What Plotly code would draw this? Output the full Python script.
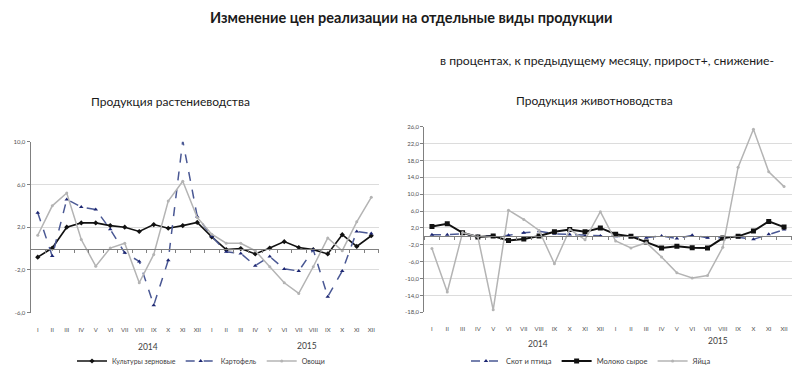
import plotly.graph_objects as go

months = ["I", "II", "III", "IV", "V", "VI", "VII", "VIII", "IX", "X", "XI", "XII"] * 2
years = ["2014", "2015"]

# Left chart: Продукция растениеводства
grain = [-0.8, 0.05, 2.0, 2.4, 2.4, 2.15, 2.0, 1.6, 2.25, 1.9, 2.15, 2.45,
         1.1, -0.1, 0.0, -0.5, 0.05, 0.65, 0.1, -0.1, -0.5, 1.3, 0.2, 1.2]
potato = [3.35, -0.7, 4.6, 3.9, 3.65, 1.8, -0.4, -1.2, -5.3, -1.1, 10.1, 3.0,
          1.15, -0.3, -0.45, -1.6, -0.75, -1.9, -2.1, -0.1, -4.5, -2.1, 1.6, 1.4]
veg = [1.25, 4.0, 5.2, 0.85, -1.65, 0.05, 0.5, -3.2, -0.55, 4.45, 6.3, 2.9,
       1.35, 0.5, 0.5, -0.2, -1.7, -3.2, -4.2, -1.7, 1.0, -0.2, 2.5, 4.8]

# Right chart: Продукция животноводства
livestock = [0.4, 0.4, 0.6, 0.0, 0.15, 0.25, 0.85, 1.2, 0.6, 0.45, 0.15, 0.1,
             0.0, -0.15, -0.3, 0.1, -0.5, 0.25, -0.3, -0.3, -0.2, -0.7, 0.5, 1.6]
milk = [2.35, 3.0, 0.85, -0.15, 0.1, -1.0, -0.6, 0.1, 1.1, 1.65, 1.1, 2.0,
        0.5, 0.0, -1.35, -2.75, -2.35, -2.7, -2.75, -0.4, 0.0, 1.25, 3.55, 2.2]
eggs = [-2.9, -13.2, 0.9, -0.1, -17.4, 6.2, 4.0, 1.4, -6.5, 1.65, -0.8, 5.85,
        -1.1, -2.75, -1.5, -4.9, -8.65, -9.85, -9.3, -2.6, 16.4, 25.4, 15.3, 11.8]

left_ticks = [-6, -2, 2, 6, 10]
right_ticks = [-18, -14, -10, -6, -2, 2, 6, 10, 14, 18, 22, 26]

# the page body has an 8px margin, so the figure is 792x363 and positions
# (given in window pixels) are shifted by 8px
OFF = 8
W, H = 800 - OFF, 371 - OFF
FONT = "Lato, 'Open Sans', sans-serif"
x = list(range(24))

def px(v):
    return (v - OFF) / W

def py(v):
    return 1 - (v - OFF) / H

L_dom_x = [px(30.5), px(378.5)]
L_dom_y = [py(312.7), py(141.7)]
R_dom_x = [px(424.3), px(791.7)]
R_dom_y = [py(312.3), py(126.7)]

BLUE_LINE = "#4a5894"
BLUE_MK = "#1c2672"
GRAY = "#b4b4b4"

fig = go.Figure()

fig.add_trace(go.Scatter(x=x, y=grain, name="Культуры зерновые", mode="lines+markers",
                         line=dict(color="#111111", width=1.6),
                         marker=dict(symbol="diamond", size=4, color="#111111"),
                         xaxis="x", yaxis="y", legend="legend"))
fig.add_trace(go.Scatter(x=x, y=potato, name="Картофель", mode="lines+markers",
                         line=dict(color=BLUE_LINE, width=1.5, dash="dash"),
                         marker=dict(symbol="triangle-up", size=4, color=BLUE_MK),
                         xaxis="x", yaxis="y", legend="legend"))
fig.add_trace(go.Scatter(x=x, y=veg, name="Овощи", mode="lines+markers",
                         line=dict(color=GRAY, width=1.5),
                         marker=dict(symbol="circle", size=3, color=GRAY),
                         xaxis="x", yaxis="y", legend="legend"))

fig.add_trace(go.Scatter(x=x, y=livestock, name="Скот и птица", mode="lines+markers",
                         line=dict(color=BLUE_LINE, width=1.5, dash="dash"),
                         marker=dict(symbol="triangle-up", size=4, color=BLUE_MK),
                         xaxis="x2", yaxis="y2", legend="legend2"))
fig.add_trace(go.Scatter(x=x, y=milk, name="Молоко сырое", mode="lines+markers",
                         line=dict(color="#111111", width=2),
                         marker=dict(symbol="square", size=5, color="#111111"),
                         xaxis="x2", yaxis="y2", legend="legend2"))
fig.add_trace(go.Scatter(x=x, y=eggs, name="Яйца", mode="lines+markers",
                         line=dict(color=GRAY, width=1.5),
                         marker=dict(symbol="circle", size=3, color=GRAY),
                         xaxis="x2", yaxis="y2", legend="legend2"))

tickfont = dict(family=FONT, size=6, color="#505050")
boundaries = [i - 0.5 for i in range(25)]

def xaxis_main(dom, anchor):
    return dict(domain=dom, anchor=anchor, range=[-0.5, 23.5], tickmode="array",
                tickvals=x, ticktext=months, showgrid=False, zeroline=False,
                showline=False, ticks="", tickfont=tickfont, ticklabelstandoff=12,
                fixedrange=True)

def xaxis_zero(dom, ydom, lo, hi, overlay):
    pos = ydom[0] + (0 - lo) / (hi - lo) * (ydom[1] - ydom[0])
    return dict(domain=dom, anchor="free", position=pos, overlaying=overlay,
                range=[-0.5, 23.5], tickmode="array", tickvals=boundaries,
                showticklabels=False, ticks="outside", ticklen=3, tickcolor="#808080",
                showline=True, linecolor="#808080", linewidth=1.2,
                showgrid=False, zeroline=False)

def yaxis(dom, anchor, lo, hi, ticks):
    return dict(domain=dom, anchor=anchor, range=[lo, hi], tickmode="array",
                tickvals=ticks, ticktext=[f"{t:.1f}".replace(".", ",") for t in ticks],
                showgrid=True, gridcolor="#dcdcdc", gridwidth=1, zeroline=False,
                showline=True, linecolor="#808080", linewidth=1,
                ticks="outside", ticklen=3, tickcolor="#808080",
                tickfont=tickfont, fixedrange=True)

legfont = dict(family=FONT, size=7, color="#404040")
fig.update_layout(
    width=W, height=H, margin=dict(l=0, r=0, t=0, b=0, autoexpand=False),
    paper_bgcolor="white", plot_bgcolor="white",
    font=dict(family=FONT, color="#222222"),
    xaxis=xaxis_main(L_dom_x, "y"),
    yaxis=yaxis(L_dom_y, "x", -6, 10, left_ticks),
    xaxis2=xaxis_main(R_dom_x, "y2"),
    yaxis2=yaxis(R_dom_y, "x2", -18, 26, right_ticks),
    xaxis3=xaxis_zero(L_dom_x, L_dom_y, -6, 10, "x"),
    xaxis4=xaxis_zero(R_dom_x, R_dom_y, -18, 26, "x2"),
    legend=dict(orientation="h", x=px(72), y=py(361), xanchor="left", yanchor="middle",
                font=legfont, itemwidth=30, bgcolor="rgba(0,0,0,0)"),
    legend2=dict(orientation="h", x=px(466), y=py(361), xanchor="left", yanchor="middle",
                 font=dict(family=FONT, size=7.5, color="#404040"), itemwidth=30,
                 bgcolor="rgba(0,0,0,0)"),
    showlegend=True,
)

# invisible helper traces so the zero-line axes are drawn
fig.add_trace(go.Scatter(x=[0], y=[0], xaxis="x3", yaxis="y", showlegend=False,
                         mode="markers", marker=dict(opacity=0), hoverinfo="skip"))
fig.add_trace(go.Scatter(x=[0], y=[0], xaxis="x4", yaxis="y2", showlegend=False,
                         mode="markers", marker=dict(opacity=0), hoverinfo="skip"))

annots = [
    dict(text="<b>Изменение цен реализации на отдельные виды продукции</b>",
         x=px(412), y=py(17), size=14.5),
    dict(text="в процентах, к предыдущему месяцу, прирост+, снижение-",
         x=px(607), y=py(60), size=12.2),
    dict(text="Продукция растениеводства", x=px(170), y=py(102), size=12),
    dict(text="Продукция животноводства", x=px(594), y=py(100), size=12),
]
for a in annots:
    fig.add_annotation(text=a["text"], x=a["x"], y=a["y"], xref="paper", yref="paper",
                       xanchor="center", yanchor="middle", showarrow=False, borderpad=0,
                       font=dict(family=FONT, size=a["size"], color="#1a1a1a"))

# year labels under category axes
year_pos = [(years[0], "x", 7.6, py(347)), (years[1], "x", 18.6, py(346)),
            (years[0], "x2", 6.9, py(344)), (years[1], "x2", 18.7, py(341))]
for txt, xr, xv, yv in year_pos:
    fig.add_annotation(text=txt, x=xv, y=yv, xref=xr, yref="paper", showarrow=False,
                       xanchor="center", yanchor="middle",
                       font=dict(family=FONT, size=8.5, color="#404040"))

fig.write_html("out.html")
